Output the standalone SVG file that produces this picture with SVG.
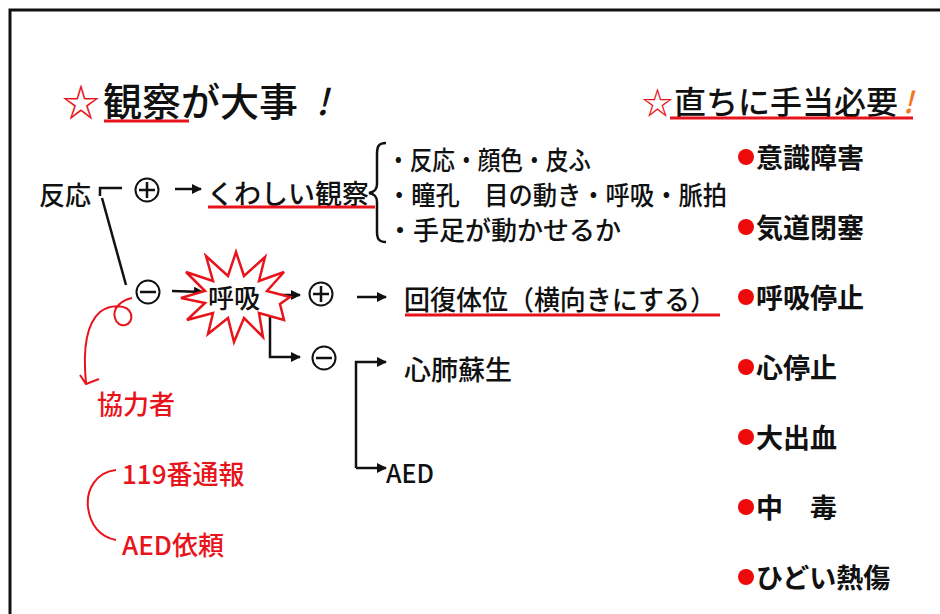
<svg xmlns="http://www.w3.org/2000/svg" width="940" height="614" viewBox="0 0 940 614">
<style>
text{font-family:"Noto Sans CJK JP","Noto Sans",sans-serif;dominant-baseline:central;font-weight:500}
.k{fill:#111}
.r{fill:#e8141b}
.b{font-weight:bold;fill:#111}
.ln{stroke:#111;stroke-width:2.5;fill:none}
.ul{stroke:#e8141b;stroke-width:3;fill:none}
.rc{stroke:#e8141b;stroke-width:2;fill:none}
.sym{stroke:#111;stroke-width:2;fill:#fff}
</style>
<defs>
<marker id="ah" viewBox="0 0 10 10" refX="9" refY="5" markerWidth="4" markerHeight="4" orient="auto" markerUnits="strokeWidth">
<path d="M0,0 L10,5 L0,10 z" fill="#111"/>
</marker>
</defs>
<rect x="0" y="0" width="940" height="614" fill="#fff"/>
<rect x="10" y="10" width="960" height="640" fill="none" stroke="#111" stroke-width="3"/>

<g id="title-left">
<text x="62" y="99" font-size="38" class="r">☆</text>
<text x="103" y="99" font-size="39" class="k">観察が大事</text>
<text x="316" y="99" font-size="36" class="k" font-style="italic" font-weight="normal">!</text>
<line x1="104" y1="121" x2="189" y2="121" class="ul"/>
</g>
<g id="title-right">
<text x="642" y="100" font-size="31" class="r">☆</text>
<text x="674" y="100" font-size="32" class="k">直ちに手当必要</text>
<text x="903" y="100" font-size="30" fill="#f07818" font-style="italic" font-weight="bold">!</text>
<line x1="670" y1="118" x2="913" y2="118" class="ul"/>
</g>

<g id="connectors">
<path d="M100,196 L100,188 L122,188" class="ln"/>
<line x1="102" y1="198" x2="126" y2="285" class="ln"/>
<line x1="175" y1="189" x2="201" y2="189" class="ln" marker-end="url(#ah)"/>
<line x1="271" y1="295" x2="300" y2="295" class="ln" marker-end="url(#ah)"/>
<path d="M270,297 L270,357 L300,357" class="ln" marker-end="url(#ah)"/>
<line x1="357" y1="297" x2="386" y2="297" class="ln" marker-end="url(#ah)"/>
<path d="M356,468 L356,362 L386,362" class="ln" marker-end="url(#ah)"/>
<path d="M356,468 L386,468" class="ln" marker-end="url(#ah)"/>
<path d="M386,143 C378,143 377,147 377,155 L377,184 C377,190 374,192 369,193 C374,194 377,196 377,202 L377,231 C377,238 378,242 386,242" class="ln" stroke-width="2"/>
<path d="M132,298 C122,300 112,308 115,318 C118,330 134,326 131,314 C128,304 110,304 100,312 C86,324 83,352 86,383 M80,375 L86,384 L99,379" class="rc"/>
<path d="M116,470 C96,472 86,490 88,507 C90,525 100,537 116,540" class="rc"/>
</g>

<g id="n-hanno"><text x="39" y="193" font-size="26" class="k">反応</text></g>

<g id="n-plus1">
<circle cx="147" cy="190" r="11.5" class="sym"/>
<path d="M139,190 H155 M147,182 V198" class="ln" stroke-width="2"/>
</g>
<g id="n-kuwashii">
<text x="207" y="192" font-size="27" class="k">くわしい観察</text>
<line x1="208" y1="207" x2="375" y2="207" class="ul"/>
</g>
<g id="n-list">
<text x="387" y="158" font-size="26" class="k" textLength="204" lengthAdjust="spacingAndGlyphs">・反応・顔色・皮ふ</text>
<text x="387" y="193" font-size="26" class="k" textLength="340" lengthAdjust="spacingAndGlyphs">・瞳孔　目の動き・呼吸・脈拍</text>
<text x="387" y="228" font-size="26" class="k" textLength="234" lengthAdjust="spacingAndGlyphs">・手足が動かせるか</text>
</g>

<g id="n-minus1">
<circle cx="148" cy="292" r="11.5" class="sym"/>
<path d="M140,292 H156" class="ln" stroke-width="2"/>
</g>
<line x1="172" y1="291" x2="203" y2="292" class="ln" marker-end="url(#ah)"/>

<g id="n-kokyu">
<polygon points="290,297 280,304 284,320 259,313 263,337 244,318 234,342 228,318 208,334 213,313 187,320 205,303 181,298 205,291 186,272 213,281 206,256 228,276 236,252 244,276 265,257 259,281 284,272 267,291" fill="#fff" stroke="#e8141b" stroke-width="2.5"/>
<text x="208" y="296" font-size="26" class="k">呼吸</text>
</g>

<g id="n-plus2">
<circle cx="321" cy="294" r="11.5" class="sym"/>
<path d="M313,294 H329 M321,286 V302" class="ln" stroke-width="2"/>
</g>
<g id="n-minus2">
<circle cx="324" cy="358" r="11.5" class="sym"/>
<path d="M316,358 H332" class="ln" stroke-width="2"/>
</g>
<g id="n-kaifuku">
<text x="404" y="298" font-size="27" class="k" textLength="312" lengthAdjust="spacingAndGlyphs">回復体位（横向きにする）</text>
<line x1="405" y1="315" x2="720" y2="315" class="ul"/>
</g>
<g id="n-cpr"><text x="404" y="368" font-size="27" class="k">心肺蘇生</text></g>
<g id="n-aed"><text x="386" y="472" font-size="25" class="k">AED</text></g>

<g id="n-kyoryoku"><text x="97" y="402" font-size="26" class="r">協力者</text></g>
<g id="n-119"><text x="122" y="472" font-size="26" class="r">119番通報</text></g>
<g id="n-aedirai"><text x="122" y="543" font-size="26" class="r">AED依頼</text></g>

<g id="n-right-list">
<circle cx="746" cy="157" r="8" fill="#ee0a0a"/><text x="756" y="156" font-size="27" class="b">意識障害</text>
<circle cx="746" cy="227" r="8" fill="#ee0a0a"/><text x="756" y="226" font-size="27" class="b">気道閉塞</text>
<circle cx="746" cy="297" r="8" fill="#ee0a0a"/><text x="756" y="296" font-size="27" class="b">呼吸停止</text>
<circle cx="746" cy="367" r="8" fill="#ee0a0a"/><text x="756" y="366" font-size="27" class="b">心停止</text>
<circle cx="746" cy="437" r="8" fill="#ee0a0a"/><text x="756" y="436" font-size="27" class="b">大出血</text>
<circle cx="746" cy="507" r="8" fill="#ee0a0a"/><text x="756" y="506" font-size="27" class="b">中　毒</text>
<circle cx="746" cy="577" r="8" fill="#ee0a0a"/><text x="756" y="576" font-size="27" class="b">ひどい熱傷</text>
</g>
</svg>
